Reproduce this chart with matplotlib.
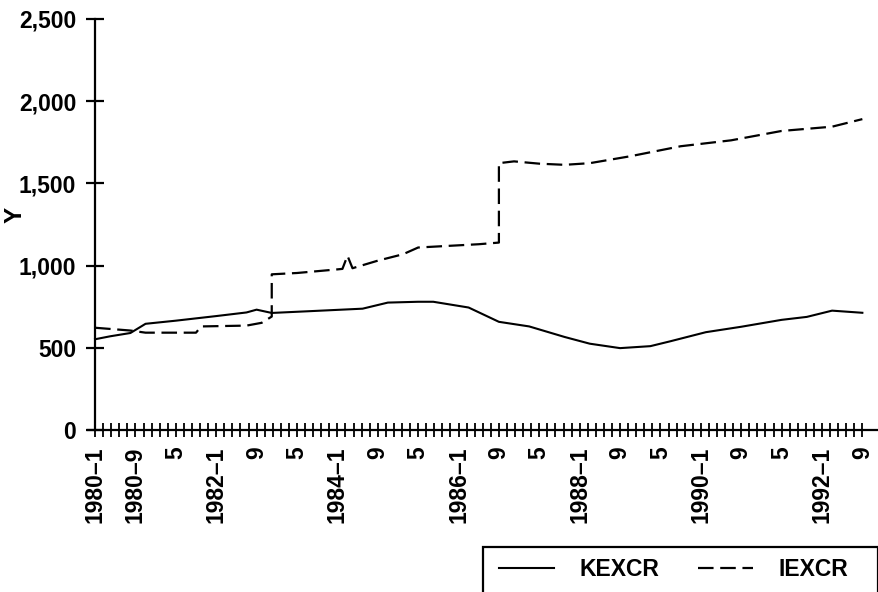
import numpy as np
import matplotlib
matplotlib.use('Agg')
import matplotlib.pyplot as plt
from matplotlib.patches import Rectangle

plt.rcParams['font.family'] = ['Liberation Sans', 'DejaVu Sans']
plt.rcParams['font.weight'] = 'bold'

# ── Data (month index counted from 1980-1) ──
kexcr_month = [0, 3, 7, 10, 16, 24, 30, 32, 35, 42, 53, 58, 64, 67, 74, 80,
               86, 93, 98, 104, 110, 114, 121, 128, 136, 141, 146, 152]
kexcr_value = [552, 570, 590, 646, 665, 693, 715, 732, 712, 722, 738, 775, 780, 780, 745, 658,
               630, 566, 525, 498, 510, 540, 595, 628, 670, 688, 726, 713]

iexcr_month = [0, 7, 10, 20, 21, 30, 33, 35, 35, 40, 48, 49, 50, 51, 56, 61, 64, 70, 76, 80,
               80, 83, 88, 93, 98, 106, 116, 126, 136, 146, 152]
iexcr_value = [622, 605, 592, 592, 630, 635, 652, 690, 947, 955, 977, 980, 1060, 984, 1030, 1069,
               1110, 1120, 1130, 1140, 1623, 1634, 1620, 1613, 1623, 1665, 1726, 1762, 1819,
               1845, 1891]

label_months = list(range(0, 153, 8))
label_text = ['1980–1', '1980–9', '5', '1982–1', '9', '5', '1984–1', '9', '5', '1986–1',
              '9', '5', '1988–1', '9', '5', '1990–1', '9', '5', '1992–1', '9']
y_ticks = [0, 500, 1000, 1500, 2000, 2500]
y_labels = ['0', '500', '1,000', '1,500', '2,000', '2,500']

W, H = 879, 592
FS = 16.5
fig = plt.figure(figsize=(W / 100, H / 100), dpi=100)
ax = fig.add_axes([88 / W, 1 - 430 / H, (877 - 88) / W, (430 - 19) / H])

ax.plot(kexcr_month, kexcr_value, color='black', lw=1.5, label='KEXCR')
ax.plot(iexcr_month, iexcr_value, color='black', lw=1.6, linestyle=(0, (7, 3)), label='IEXCR')

ax.set_xlim(-1.4, 154.9)
ax.set_ylim(0, 2500)
ax.spines['top'].set_visible(False)
ax.spines['right'].set_visible(False)
ax.spines['left'].set_position(('data', 0))
for s in ('left', 'bottom'):
    ax.spines[s].set_linewidth(1.6)

ax.set_xticks(label_months)
ax.set_xticklabels(label_text, rotation=90, va='top', ha='center')
ax.set_xticks(np.arange(0, 153, 1.6), minor=True)
ax.tick_params(axis='x', which='both', direction='inout', length=10, width=1.3,
               labelsize=FS, pad=7)
ax.set_yticks(y_ticks)
ax.set_yticklabels(y_labels)
ax.tick_params(axis='y', direction='inout', length=13, width=1.6, labelsize=FS, pad=7)

fig.text(15 / W, 1 - 215 / H, 'Y', rotation=90, fontsize=FS + 1, ha='center', va='center')

# legend box, cut by the figure bottom as in the scan
fig.patches.append(Rectangle((483 / W, -0.05), (878 - 483) / W, 1 - 547 / H + 0.05,
                             transform=fig.transFigure, fill=False, lw=1.6,
                             edgecolor='black', clip_on=False))
fig.legend(loc='center left', bbox_to_anchor=(499 / W, 1 - 570 / H), ncol=2,
           frameon=False, fontsize=FS, handlelength=2.4, handletextpad=1.1,
           columnspacing=1.7, borderpad=0, borderaxespad=0)

fig.savefig('out.png', dpi=100, facecolor='white')
